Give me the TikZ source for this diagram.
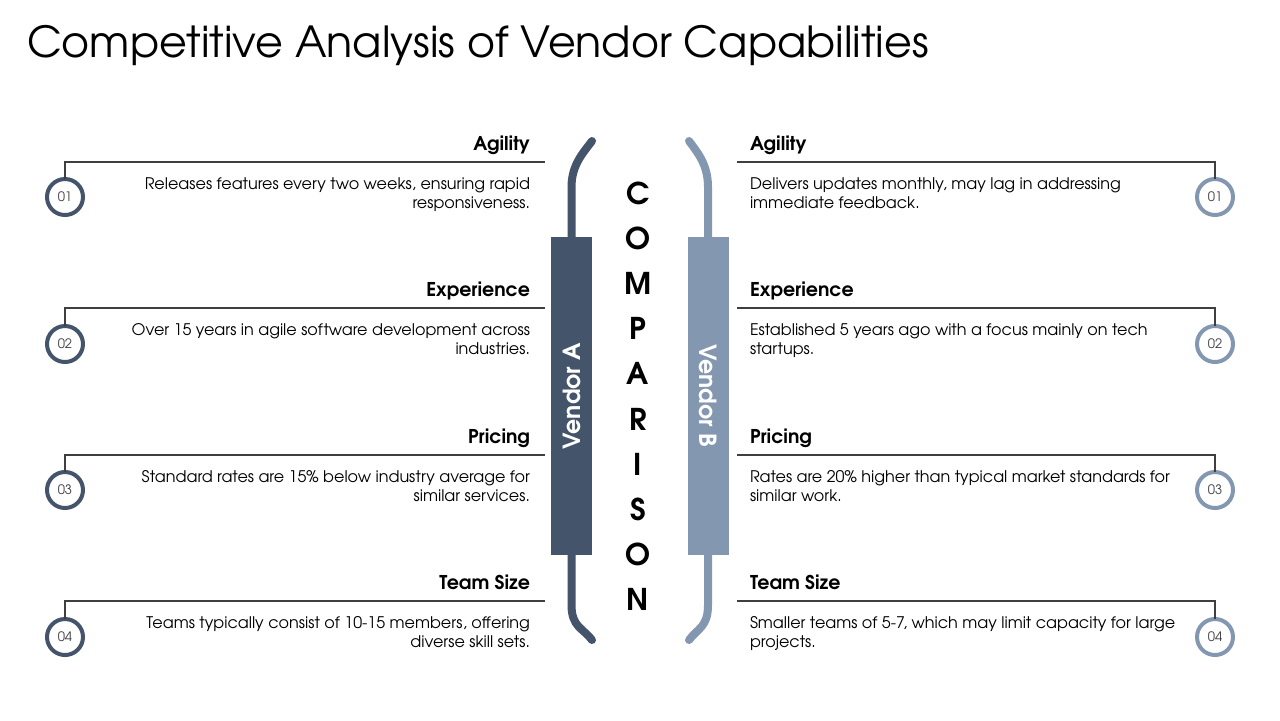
\documentclass[tikz,border=0pt]{standalone}
\usepackage{fontspec}
\setmainfont{TeX Gyre Adventor}
\usepackage{xcolor}
\usetikzlibrary{positioning}

\definecolor{vendora}{HTML}{44546A}
\definecolor{vendorb}{HTML}{8497B0}
\definecolor{rulegray}{HTML}{3F3F3F}

\begin{document}
\begin{tikzpicture}[
    x=0.5pt, y=-0.5pt,
    every node/.style={inner sep=0pt, outer sep=0pt},
    title/.style={font=\fontsize{21.4}{25}\selectfont, anchor=base west},
    head/.style={font=\fontsize{9.5}{11}\selectfont\bfseries},
    desc/.style={font=\fontsize{8}{9.5}\selectfont},
    numa/.style={circle, draw=vendora, line width=2pt, minimum size=18pt,
        font=\fontsize{6.5}{7}\selectfont, text=black!75},
    numb/.style={numa, draw=vendorb},
    bar/.style={rectangle, minimum width=20.5pt, minimum height=159pt,
        text=white, font=\fontsize{11.8}{13}\selectfont\bfseries},
    letter/.style={font=\fontsize{15}{18}\selectfont\bfseries,
        text height=11pt, text depth=0pt},
    link/.style={draw=rulegray, line width=0.7pt},
    brace/.style={line width=4pt, line cap=round},
]
\path[fill=white, use as bounding box] (0,0) rectangle (1280,720);

\node[title] (title) at (27,57) {Competitive Analysis of Vendor Capabilities};

% Vendor A (left column)
\node[head, anchor=base east] (ha1) at (530,150) {Agility};
\node[desc, anchor=base east, align=right] (da1) at (530,208)
    {Releases features every two weeks, ensuring rapid\\responsiveness.};
\node[numa] (na1) at (65,197) {01};
\coordinate (ea1) at (545,162);

\node[head, anchor=base east] (ha2) at (530,296) {Experience};
\node[desc, anchor=base east, align=right] (da2) at (530,354)
    {Over 15 years in agile software development across\\industries.};
\node[numa] (na2) at (65,344) {02};
\coordinate (ea2) at (545,308);

\node[head, anchor=base east] (ha3) at (530,443) {Pricing};
\node[desc, anchor=base east, align=right] (da3) at (530,501)
    {Standard rates are 15\% below industry average for\\similar services.};
\node[numa] (na3) at (65,490) {03};
\coordinate (ea3) at (545,455);

\node[head, anchor=base east] (ha4) at (530,589) {Team Size};
\node[desc, anchor=base east, align=right] (da4) at (530,647)
    {Teams typically consist of 10-15 members, offering\\diverse skill sets.};
\node[numa] (na4) at (65,637) {04};
\coordinate (ea4) at (545,601);

% Vendor B (right column)
\node[head, anchor=base west] (hb1) at (750,150) {Agility};
\node[desc, anchor=base west, align=left] (db1) at (750,208)
    {Delivers updates monthly, may lag in addressing\\immediate feedback.};
\node[numb] (nb1) at (1215,197) {01};
\coordinate (eb1) at (737,162);

\node[head, anchor=base west] (hb2) at (750,296) {Experience};
\node[desc, anchor=base west, align=left] (db2) at (750,354)
    {Established 5 years ago with a focus mainly on tech\\startups.};
\node[numb] (nb2) at (1215,344) {02};
\coordinate (eb2) at (737,308);

\node[head, anchor=base west] (hb3) at (750,443) {Pricing};
\node[desc, anchor=base west, align=left] (db3) at (750,501)
    {Rates are 20\% higher than typical market standards for\\similar work.};
\node[numb] (nb3) at (1215,490) {03};
\coordinate (eb3) at (737,455);

\node[head, anchor=base west] (hb4) at (750,589) {Team Size};
\node[desc, anchor=base west, align=left] (db4) at (750,647)
    {Smaller teams of 5-7, which may limit capacity for large\\projects.};
\node[numb] (nb4) at (1215,637) {04};
\coordinate (eb4) at (737,601);

% Leader lines
\draw[link] (na1) |- (ea1);
\draw[link] (na2) |- (ea2);
\draw[link] (na3) |- (ea3);
\draw[link] (na4) |- (ea4);
\draw[link] (nb1) |- (eb1);
\draw[link] (nb2) |- (eb2);
\draw[link] (nb3) |- (eb3);
\draw[link] (nb4) |- (eb4);

% Centre bars and brackets
\node[bar, fill=vendora] (bara) at (571.5,396) {\rotatebox{90}{Vendor A}};
\node[bar, fill=vendorb] (barb) at (708,396) {\rotatebox{-90}{Vendor B}};
\coordinate (ta) at (592,141);
\coordinate (ba) at (592,640);
\coordinate (tb) at (689,141);
\coordinate (bb) at (689,640);

\draw[brace, vendora] (bara.north) -- ++(0,-50)
    .. controls +(0,-22) and +(-9,12) .. (ta);
\draw[brace, vendora] (bara.south) -- ++(0,50)
    .. controls +(0,22) and +(-9,-12) .. (ba);
\draw[brace, vendorb] (barb.north) -- ++(0,-50)
    .. controls +(0,-22) and +(9,12) .. (tb);
\draw[brace, vendorb] (barb.south) -- ++(0,50)
    .. controls +(0,22) and +(9,-12) .. (bb);

% COMPARISON
\node[letter] (lc1) at (638,193) {C};
\node[letter, below=11.6pt of lc1] (lc2) {O};
\node[letter, below=11.6pt of lc2] (lc3) {M};
\node[letter, below=11.6pt of lc3] (lc4) {P};
\node[letter, below=11.6pt of lc4] (lc5) {A};
\node[letter, below=11.6pt of lc5] (lc6) {R};
\node[letter, below=11.6pt of lc6] (lc7) {I};
\node[letter, below=11.6pt of lc7] (lc8) {S};
\node[letter, below=11.6pt of lc8] (lc9) {O};
\node[letter, below=11.6pt of lc9] (lc10) {N};

\end{tikzpicture}
\end{document}
